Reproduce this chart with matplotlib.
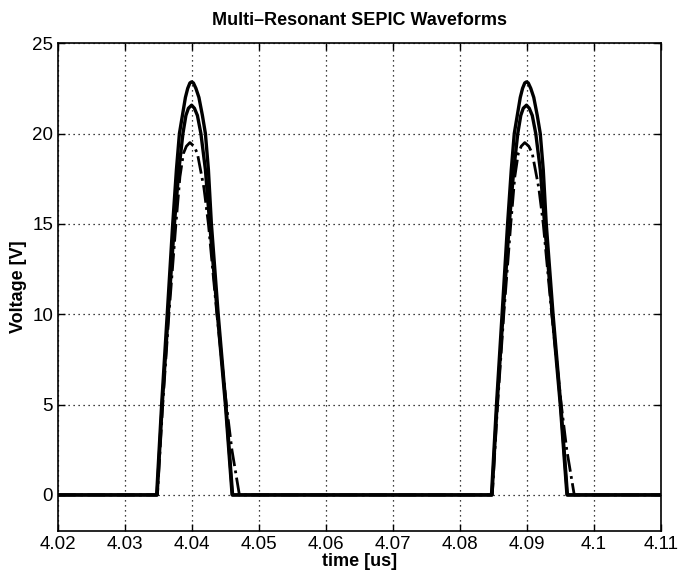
import matplotlib
matplotlib.use("Agg")
import matplotlib.pyplot as plt

plt.rcParams['font.family'] = ['Liberation Sans', 'DejaVu Sans']

# outer solid curve (highest peak)
t_a = [4.02,
       4.034731, 4.035478, 4.036313, 4.037134, 4.037687, 4.038134, 4.038582, 4.039030, 4.039373,
       4.039701, 4.039955, 4.040224, 4.040597, 4.041045, 4.041567, 4.042015, 4.042463, 4.042910,
       4.043925, 4.045075, 4.046075,
       4.084731, 4.085478, 4.086313, 4.087134, 4.087687, 4.088134, 4.088582, 4.089030, 4.089373,
       4.089701, 4.089955, 4.090224, 4.090597, 4.091045, 4.091567, 4.092015, 4.092463, 4.092910,
       4.093925, 4.095075, 4.096075,
       4.11]
v_a = [0,
       0, 5, 10, 15, 18, 20, 21, 22, 22.5, 22.8, 22.86, 22.8, 22.5, 22, 21, 20, 18, 15, 10, 5, 0,
       0, 5, 10, 15, 18, 20, 21, 22, 22.5, 22.8, 22.86, 22.8, 22.5, 22, 21, 20, 18, 15, 10, 5, 0,
       0]

# inner solid curve
t_b = [4.02,
       4.034806, 4.035567, 4.036463, 4.037388, 4.038060, 4.038657, 4.039104, 4.039478, 4.039955,
       4.040373, 4.040821, 4.041343, 4.042015, 4.042657, 4.043806, 4.045000, 4.046000,
       4.084806, 4.085567, 4.086463, 4.087388, 4.088060, 4.088657, 4.089104, 4.089478, 4.089955,
       4.090373, 4.090821, 4.091343, 4.092015, 4.092657, 4.093806, 4.095000, 4.096000,
       4.11]
v_b = [0,
       0, 5, 10, 15, 18, 20, 21, 21.4, 21.57, 21.4, 21, 20, 18, 15, 10, 5, 0,
       0, 5, 10, 15, 18, 20, 21, 21.4, 21.57, 21.4, 21, 20, 18, 15, 10, 5, 0,
       0]

# dash-dot curve
t_c = [4.02,
       4.034851, 4.035642, 4.036567, 4.037612, 4.038209, 4.038731, 4.039179, 4.039701,
       4.040299, 4.040821, 4.041791, 4.042463, 4.043731, 4.045149, 4.045970, 4.047090,
       4.084851, 4.085642, 4.086567, 4.087612, 4.088209, 4.088731, 4.089179, 4.089701,
       4.090299, 4.090821, 4.091791, 4.092463, 4.093731, 4.095149, 4.095970, 4.097090,
       4.11]
v_c = [0,
       0, 5, 10, 15, 17.6, 18.9, 19.3, 19.5, 19.3, 18.9, 17, 15, 10, 5, 2.5, 0,
       0, 5, 10, 15, 17.6, 18.9, 19.3, 19.5, 19.3, 18.9, 17, 15, 10, 5, 2.5, 0,
       0]

x_ticks = [4.02, 4.03, 4.04, 4.05, 4.06, 4.07, 4.08, 4.09, 4.1, 4.11]
x_labels = ['4.02', '4.03', '4.04', '4.05', '4.06', '4.07', '4.08', '4.09', '4.1', '4.11']
y_ticks = [0, 5, 10, 15, 20, 25]

fig = plt.figure(figsize=(6.78, 5.76), dpi=100)
ax = fig.add_axes([0.0855, 0.078, 0.889, 0.847])

ax.plot(t_c, v_c, '-.', color='black', lw=2.0)
ax.plot(t_b, v_b, '-', color='black', lw=2.4)
ax.plot(t_a, v_a, '-', color='black', lw=2.4)

ax.set_xlim(4.02, 4.11)
ax.set_ylim(-2, 25)
ax.set_xticks(x_ticks)
ax.set_xticklabels(x_labels)
ax.set_yticks(y_ticks)
ax.tick_params(direction='in', top=True, right=True, length=5, labelsize=13.5, width=1)
ax.grid(True, linestyle=(0, (1, 3)), color='black', lw=0.9)
for s in ax.spines.values():
    s.set_linewidth(1.2)

ax.set_title('Multi\u2013Resonant SEPIC Waveforms', fontsize=13, fontweight='bold', pad=13)
ax.set_xlabel('time [us]', fontsize=13, fontweight='bold', labelpad=0)
ax.set_ylabel('Voltage [V]', fontsize=13, fontweight='bold', labelpad=4)

fig.savefig('out.png', dpi=100)
